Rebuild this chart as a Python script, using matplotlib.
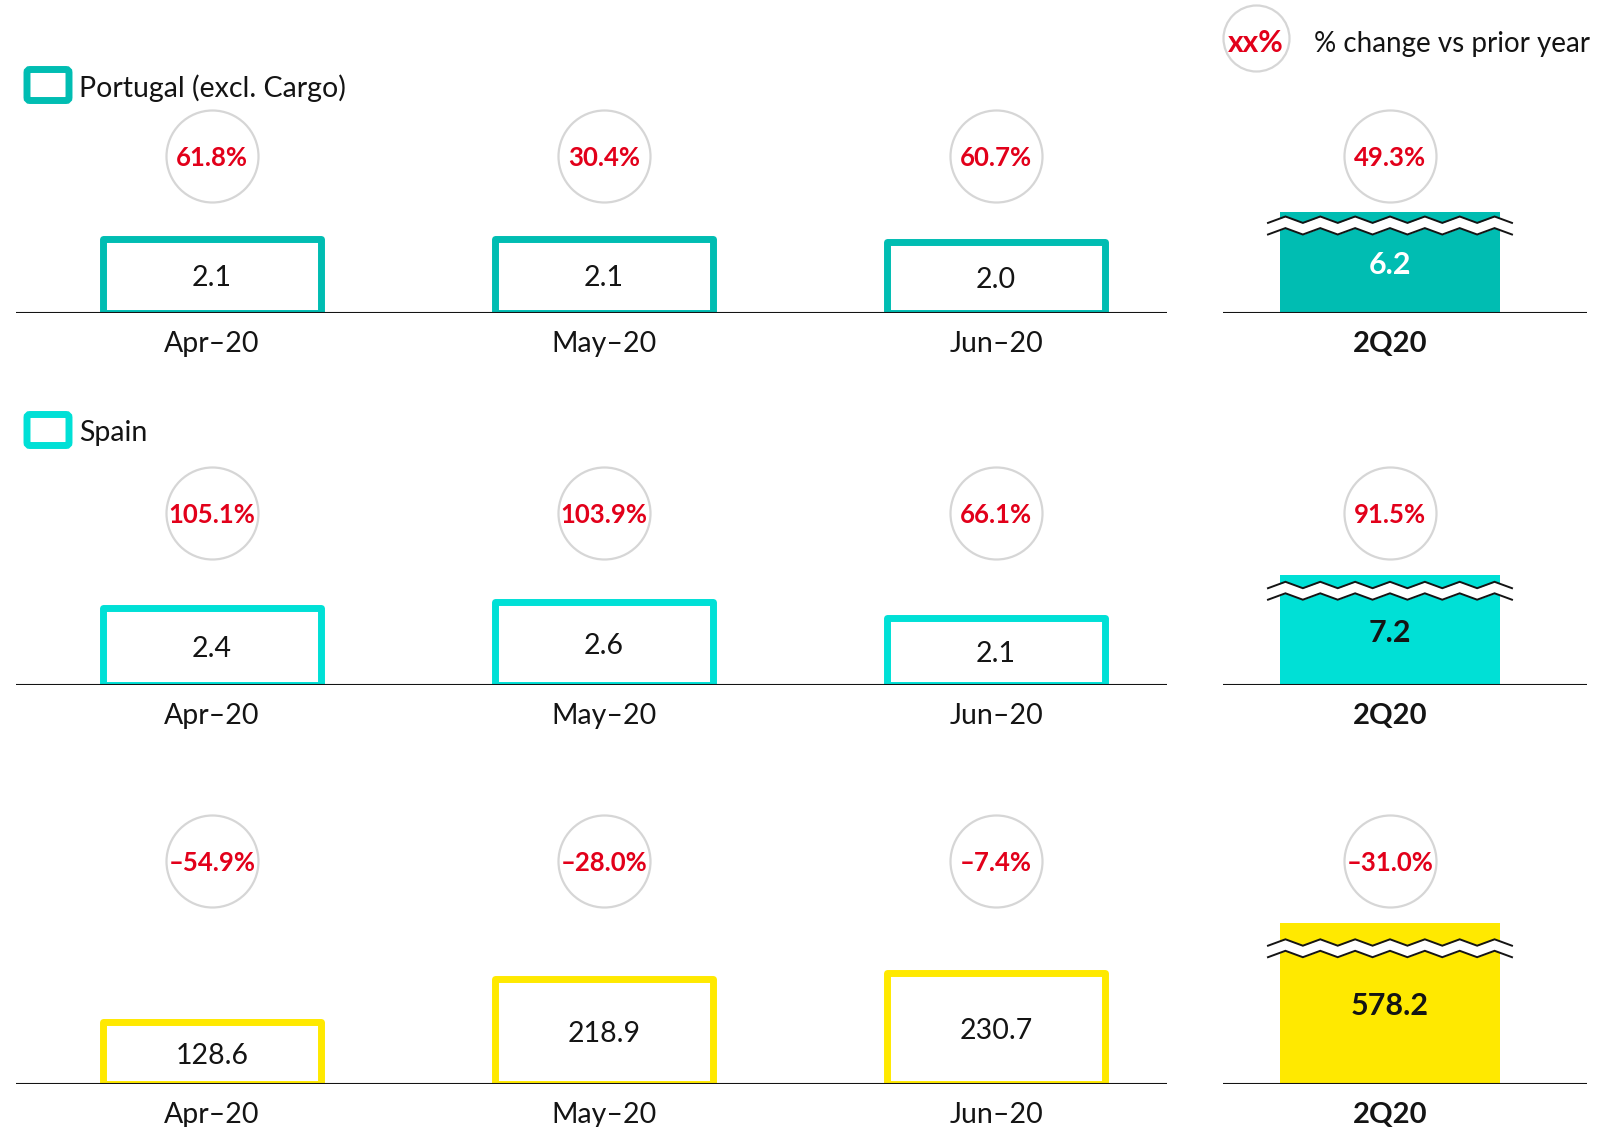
import matplotlib
matplotlib.use('Agg')
import matplotlib.pyplot as plt
import matplotlib.transforms as mtransforms
from matplotlib.patches import FancyBboxPatch
import numpy as np

plt.rcParams['font.family'] = ['Lato', 'DejaVu Sans']

# ---------------- data ----------------
months = ['Apr–20', 'May–20', 'Jun–20']
quarter = ['2Q20']

portugal_monthly = [2.1, 2.1, 2.0]
portugal_quarter = [6.2]
portugal_change = ['61.8%', '30.4%', '60.7%']
portugal_q_change = ['49.3%']

spain_monthly = [2.4, 2.6, 2.1]
spain_quarter = [7.2]
spain_change = ['105.1%', '103.9%', '66.1%']
spain_q_change = ['91.5%']

third_monthly = [128.6, 218.9, 230.7]
third_quarter = [578.2]
third_change = ['–54.9%', '–28.0%', '–7.4%']
third_q_change = ['–31.0%']

legend_labels = ['Portugal (excl. Cargo)', 'Spain']
legend_change_text = '% change vs prior year'

# ---------------- style / layout ----------------
W, H = 1620, 1127
TEAL = '#00BDB2'
CYAN = '#00E0D6'
YELLOW = '#FFE900'
RED = '#E2001A'
GREY = '#D6D6D6'
INK = '#141414'

LABEL_FS = 20.5
VALUE_FS = 20.5
PCT_FS = 18.5
QVAL_FS = 22
QLAB_FS = 21

fig = plt.figure(figsize=(W / 100, H / 100), dpi=100)
fig.patch.set_facecolor('white')

AX_H = 240  # px height of each row axes (above baseline)

rows = [
    dict(monthly=portugal_monthly, quarter=portugal_quarter, chg=portugal_change,
         qchg=portugal_q_change, color=TEAL, qtext='white', baseline=313,
         ppu_left=35.4, q_px=101, circ_frac=(313 - 156) / AX_H, brk=(7.7, 19.3)),
    dict(monthly=spain_monthly, quarter=spain_quarter, chg=spain_change,
         qchg=spain_q_change, color=CYAN, qtext=INK, baseline=685,
         ppu_left=32.0, q_px=110, circ_frac=(685 - 513) / AX_H, brk=(10.0, 21.5)),
    dict(monthly=third_monthly, quarter=third_quarter, chg=third_change,
         qchg=third_q_change, color=YELLOW, qtext=INK, baseline=1084,
         ppu_left=0.48, q_px=161, circ_frac=(1084 - 861) / AX_H, brk=(19.5, 31.0)),
]

PX_PER_X = 392.0
BAR_W = 0.556
QBAR_W = 0.559
CIRC_S = (92 * 0.72) ** 2
LABEL_OFF = -31 * 0.72


def style_axes(ax):
    for s in ax.spines.values():
        s.set_visible(False)
    ax.set_xticks([])
    ax.set_yticks([])
    ax.patch.set_alpha(0)


def draw_break(ax, x, top, ppu, off1, off2):
    halfw = 244 / 2 / PX_PER_X
    n = 15
    xs = np.linspace(x - halfw, x + halfw, n)
    sign = np.array([(-1) ** (i + 1) for i in range(n)])
    amp = 3.2 / ppu
    y1 = top - off1 / ppu + amp * sign
    y2 = top - off2 / ppu + amp * sign
    ax.fill_between(xs, y2, y1, color='white', zorder=6, clip_on=False, lw=0)
    ax.plot(xs, y1, color=INK, lw=1.4, zorder=7, clip_on=False, solid_joinstyle='miter')
    ax.plot(xs, y2, color=INK, lw=1.4, zorder=7, clip_on=False, solid_joinstyle='miter')


for r in rows:
    b = r['baseline']
    bottom = (H - b) / H
    height = AX_H / H

    # ---- monthly axes ----
    axl = fig.add_axes([16 / W, bottom, (1167 - 16) / W, height])
    style_axes(axl)
    axl.set_xlim(-0.5, -0.5 + (1167 - 16) / PX_PER_X)
    axl.set_ylim(0, AX_H / r['ppu_left'])
    x = np.arange(len(months))
    axl.bar(x, r['monthly'], width=BAR_W, facecolor='white', edgecolor=r['color'],
            linewidth=5.0, joinstyle='round', zorder=3)
    axl.axhline(0, color=INK, lw=1.5, zorder=5)
    for xi, v in zip(x, r['monthly']):
        axl.text(xi, v / 2, f'{v:.1f}', ha='center', va='center_baseline',
                 fontsize=VALUE_FS, color=INK, zorder=6)
    trl = mtransforms.blended_transform_factory(axl.transData, axl.transAxes)
    axl.scatter(x, [r['circ_frac']] * len(x), s=CIRC_S, facecolor='white',
                edgecolor=GREY, linewidths=1.6, transform=trl, clip_on=False, zorder=4)
    for xi, c in zip(x, r['chg']):
        axl.text(xi, r['circ_frac'], c, transform=trl, ha='center', va='center_baseline',
                 fontsize=PCT_FS, fontweight='bold', color=RED, zorder=5)
    for xi, lab in zip(x, months):
        axl.annotate(lab, (xi, 0), xytext=(0, LABEL_OFF), textcoords='offset points',
                     ha='center', va='center', fontsize=LABEL_FS, color=INK,
                     annotation_clip=False)

    # ---- quarter axes ----
    axr = fig.add_axes([1223 / W, bottom, (1587 - 1223) / W, height])
    style_axes(axr)
    axr.set_xlim(-0.426, -0.426 + (1587 - 1223) / PX_PER_X)
    qv = r['quarter'][0]
    ymax_r = qv * AX_H / r['q_px']
    axr.set_ylim(0, ymax_r)
    ppu_r = AX_H / ymax_r
    xq = np.arange(len(quarter))
    axr.bar(xq, r['quarter'], width=QBAR_W, color=r['color'], linewidth=0, zorder=3)
    axr.axhline(0, color=INK, lw=1.5, zorder=5)
    draw_break(axr, xq[0], qv, ppu_r, *r['brk'])
    axr.text(xq[0], qv / 2, f'{qv:.1f}', ha='center', va='center_baseline',
             fontsize=QVAL_FS, fontweight='bold', color=r['qtext'], zorder=8)
    trr = mtransforms.blended_transform_factory(axr.transData, axr.transAxes)
    axr.scatter(xq, [r['circ_frac']], s=CIRC_S, facecolor='white', edgecolor=GREY,
                linewidths=1.6, transform=trr, clip_on=False, zorder=4)
    axr.text(xq[0], r['circ_frac'], r['qchg'][0], transform=trr, ha='center',
             va='center_baseline', fontsize=PCT_FS, fontweight='bold', color=RED, zorder=5)
    axr.annotate(quarter[0], (xq[0], 0), xytext=(0, LABEL_OFF), textcoords='offset points',
                 ha='center', va='center', fontsize=QLAB_FS, fontweight='bold', color=INK,
                 annotation_clip=False)

# ---------------- legends (overlay in pixel space) ----------------
ov = fig.add_axes([0, 0, 1, 1])
ov.set_xlim(0, W)
ov.set_ylim(H, 0)
ov.axis('off')
ov.patch.set_alpha(0)

for (cy, col, lab) in [(85, TEAL, legend_labels[0]), (430, CYAN, legend_labels[1])]:
    box = FancyBboxPatch((27, cy - 15.5), 42, 31, boxstyle='round,pad=0,rounding_size=3',
                         facecolor='white', edgecolor=col, linewidth=5.0)
    ov.add_patch(box)
    ov.text(79, cy + 3, lab, ha='left', va='center', fontsize=LABEL_FS, color=INK)

ov.scatter([1256], [38], s=(66 * 0.72) ** 2, facecolor='white', edgecolor=GREY,
           linewidths=1.6, zorder=3)
ov.text(1256, 41, 'xx%', ha='center', va='center_baseline', fontsize=21.5,
        fontweight='bold', color=RED, zorder=4)
ov.text(1314, 44, legend_change_text, ha='left', va='center', fontsize=20, color=INK)

fig.savefig('out.png', dpi=100, facecolor='white')
